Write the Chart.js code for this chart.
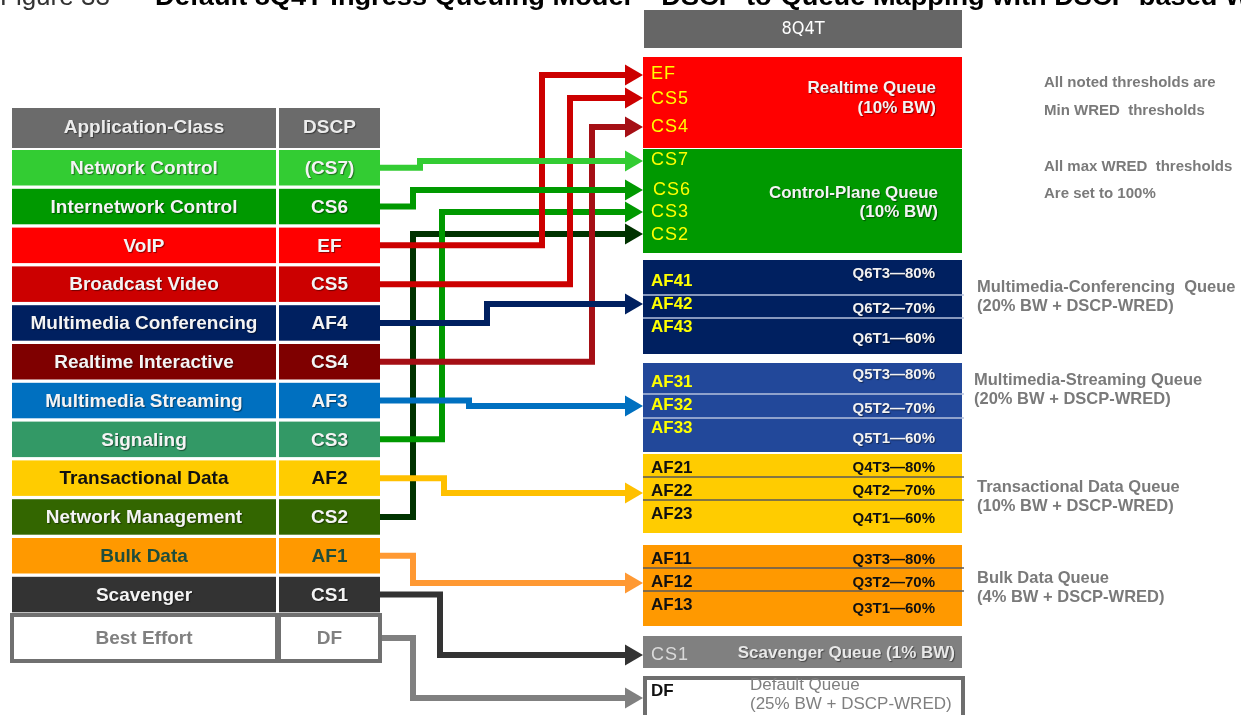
<!DOCTYPE html>
<html>
<head>
<meta charset="utf-8">
<script src="https://cdn.jsdelivr.net/npm/chart.js@4.4.1/dist/chart.umd.min.js"></script>
<style>
  html, body { margin: 0; padding: 0; background: #fff; overflow: hidden; }
</style>
</head>
<body>
<canvas id="qmap" width="1241" height="715"></canvas>
<script>
// ---- data ----
const tableHeader = ['Application-Class', 'DSCP'];
const appClasses = ['Network Control', 'Internetwork Control', 'VoIP', 'Broadcast Video', 'Multimedia Conferencing',
  'Realtime Interactive', 'Multimedia Streaming', 'Signaling', 'Transactional Data', 'Network Management',
  'Bulk Data', 'Scavenger', 'Best Effort'];
const dscpMarks = ['(CS7)', 'CS6', 'EF', 'CS5', 'AF4', 'CS4', 'AF3', 'CS3', 'AF2', 'CS2', 'AF1', 'CS1', 'DF'];
const classTargets = ['CS7', 'CS6', 'EF', 'CS5', 'AF42', 'CS4', 'AF32', 'CS3', 'AF22', 'CS2', 'AF12', 'CS1', 'DF'];

const queueModel = '8Q4T';
const queueNames = ['Realtime Queue', 'Control-Plane Queue', 'Multimedia-Conferencing  Queue', 'Multimedia-Streaming Queue',
  'Transactional Data Queue', 'Bulk Data Queue', 'Scavenger Queue', 'Default Queue'];
const queueShares = ['(10% BW)', '(10% BW)', '(20% BW + DSCP-WRED)', '(20% BW + DSCP-WRED)',
  '(10% BW + DSCP-WRED)', '(4% BW + DSCP-WRED)', '(1% BW)', '(25% BW + DSCP-WRED)'];
const queueDscp = [['EF', 'CS5', 'CS4'], ['CS7', 'CS6', 'CS3', 'CS2'], ['AF41', 'AF42', 'AF43'], ['AF31', 'AF32', 'AF33'],
  ['AF21', 'AF22', 'AF23'], ['AF11', 'AF12', 'AF13'], ['CS1'], ['DF']];
const queueThresholds = [[], [], ['Q6T3—80%', 'Q6T2—70%', 'Q6T1—60%'], ['Q5T3—80%', 'Q5T2—70%', 'Q5T1—60%'],
  ['Q4T3—80%', 'Q4T2—70%', 'Q4T1—60%'], ['Q3T3—80%', 'Q3T2—70%', 'Q3T1—60%'], [], []];
const notes = ['All noted thresholds are', 'Min WRED  thresholds', 'All max WRED  thresholds', 'Are set to 100%'];
const titleLead = 'Figure 33 –';
const titleMain = 'Default 8Q4T Ingress Queuing Model – DSCP-to-Queue Mapping with DSCP-based WRED';

// ---- styles ----
const classFill = ['#33cc33', '#009900', '#ff0000', '#cc0000', '#002060', '#7f0000', '#0070c0', '#339966',
  '#ffcc00', '#336600', '#ff9900', '#333333', '#ffffff'];
const classInk = ['#f4f4f4', '#f4f4f4', '#f4f4f4', '#f4f4f4', '#f4f4f4', '#f4f4f4', '#f4f4f4', '#f4f4f4',
  '#111111', '#f4f4f4', '#1f4d3b', '#f4f4f4', '#808080'];
const arrowColors = ['#33cc33', '#009900', '#cc0000', '#cc0000', '#002060', '#a50f15', '#0070c0', '#009900',
  '#ffc000', '#003300', '#ff9933', '#333333', '#808080'];
const queueFill = ['#ff0000', '#009900', '#002060', '#22489a', '#ffcc00', '#ff9900', '#808080', '#ffffff'];
const queueInk = ['#ffff00', '#ffff00', '#ffff00', '#ffff00', '#111111', '#111111', '#dadada', '#111111'];
const thresholdInk = ['', '', '#f2f2f2', '#f2f2f2', '#111111', '#111111', '', ''];
const dividerInk = ['', '', '#b4c0dc', '#b4c0dc', '#5a5a5a', '#5a5a5a', '', ''];
const SANS = '"Liberation Sans", Arial, sans-serif';
const NARROW = '"Liberation Sans Narrow", "DejaVu Sans Condensed", sans-serif';

// ---- layout ----
const ROW_TOP0 = 150, ROW_PITCH = 38.8, ROW_H = 35.5;
const COL = { appL: 12, appR: 276, dscpL: 279, dscpR: 380 };
const elbowX = [420, 413, 542, 570, 487, 592, 469, 442, 444, 413, 413, 440, 413];
const arrowY = [161, 190, 75, 98, 304, 127, 406, 212, 493, 234, 583, 655, 698];
const QX0 = 643, QX1 = 962, ARROW_R = 12;
const queueBox = [[57, 148], [149, 253], [260, 354], [363, 452], [454, 533], [545, 626], [636, 668], [676, 745]];
const slotY = { EF: 74, CS5: 99, CS4: 127, CS7: 160, CS6: 190, CS3: 212, CS2: 235,
  AF41: 281, AF42: 304, AF43: 327, AF31: 382, AF32: 405, AF33: 428,
  AF21: 468, AF22: 491, AF23: 514, AF11: 559, AF12: 582, AF13: 605, CS1: 655, DF: 691 };
const thresholdY = [[], [], [274, 309, 339], [375, 409, 439], [468, 491, 519], [560, 583, 609], [], []];
const dividerY = [[], [], [295, 318], [394, 418], [477, 500], [568, 591], [], []];

const rowTop = i => ROW_TOP0 + i * ROW_PITCH;
const rowMid = i => i === 12 ? 638 : rowTop(i) + ROW_H / 2;

// connector datasets: table row -> queue slot, arrowhead on the last point
const datasets = appClasses.map((name, i) => {
  const y0 = rowMid(i), y1 = arrowY[i];
  return {
    label: name + ' → ' + classTargets[i],
    data: [
      { x: i === 12 ? 382 : COL.dscpR, y: y0 },
      { x: elbowX[i], y: y0 },
      { x: elbowX[i], y: y1 },
      { x: QX0 - ARROW_R, y: y1 }
    ],
    showLine: true,
    borderColor: arrowColors[i],
    backgroundColor: arrowColors[i],
    borderWidth: 6,
    borderJoinStyle: 'miter',
    borderCapStyle: 'butt',
    tension: 0,
    pointStyle: 'triangle',
    rotation: 90,
    pointBorderWidth: 0,
    pointBackgroundColor: arrowColors[i],
    pointRadius: ctx => ctx.dataIndex === 3 ? ARROW_R : 0,
    clip: false,
    order: (classTargets[i] === 'CS2' || classTargets[i] === 'CS3') ? 2 : 1
  };
});

const diagramPlugin = {
  id: 'diagram',
  beforeDatasetsDraw(chart) {
    const { ctx, scales: { x, y } } = chart;
    const px = v => x.getPixelForValue(v);
    const py = v => y.getPixelForValue(v);
    const rect = (x0, y0, x1, y1, fill) => {
      ctx.fillStyle = fill;
      ctx.fillRect(px(x0), py(y0), px(x1) - px(x0), py(y1) - py(y0));
    };
    const text = (str, xv, yv, font, color, align, shadow, spacing) => {
      ctx.save();
      ctx.font = font;
      ctx.fillStyle = color;
      ctx.textAlign = align || 'left';
      ctx.textBaseline = 'middle';
      if (spacing) ctx.letterSpacing = spacing;
      if (shadow) {
        ctx.shadowColor = 'rgba(0,0,0,0.45)';
        ctx.shadowBlur = 1;
        ctx.shadowOffsetX = 1;
        ctx.shadowOffsetY = 1;
      }
      ctx.fillText(str, px(xv), py(yv));
      ctx.restore();
    };
    ctx.save();

    // title, cut off at the top edge
    ctx.save();
    ctx.textBaseline = 'alphabetic';
    ctx.font = '26px ' + SANS;
    ctx.fillStyle = '#333';
    ctx.fillText(titleLead, px(0), py(5));
    ctx.font = 'bold 26px ' + SANS;
    ctx.fillStyle = '#000';
    const pre = ctx.measureText('Default 8Q4T Ingress Queuing Model – DSCP-to-Queue Mapping with DSCP-based ').width;
    ctx.translate(px(155), py(5));
    ctx.scale(1070 / pre, 1);
    ctx.fillText(titleMain, 0, 0);
    ctx.restore();

    // application-class table
    const appMid = (COL.appL + COL.appR) / 2, dscpMid = (COL.dscpL + COL.dscpR) / 2;
    rect(COL.appL, 108, COL.appR, 148, '#6b6b6b');
    rect(COL.dscpL, 108, COL.dscpR, 148, '#6b6b6b');
    text(tableHeader[0], appMid, 128, 'bold 19px ' + SANS, '#ececec', 'center', true);
    text(tableHeader[1], dscpMid, 128, 'bold 19px ' + SANS, '#ececec', 'center', true);
    appClasses.forEach((name, i) => {
      const light = classInk[i] === '#f4f4f4';
      if (i === 12) {
        rect(10, 613, 382, 663, '#707070');
        rect(14, 617, 275, 659, classFill[i]);
        rect(281, 617, 378, 659, classFill[i]);
      } else {
        const t = rowTop(i);
        rect(COL.appL, t, COL.appR, t + ROW_H, classFill[i]);
        rect(COL.dscpL, t, COL.dscpR, t + ROW_H, classFill[i]);
      }
      const m = rowMid(i);
      text(name, appMid, m + 1, 'bold 19px ' + SANS, classInk[i], 'center', light);
      text(dscpMarks[i], dscpMid, m + 1, 'bold 19px ' + SANS, classInk[i], 'center', light);
    });

    // queue header
    rect(644, 10, 962, 48, '#666666');
    text(queueModel, 803, 29, '18px ' + NARROW, '#ffffff', 'center');

    // queues
    queueNames.forEach((name, q) => {
      const [t, b] = queueBox[q];
      if (q === 7) {
        rect(QX0, t, QX1 + 3, b, '#6e6e6e');
        rect(QX0 + 4, t + 4, QX1 - 1, b, '#ffffff');
      } else {
        rect(QX0, t, QX1, b, queueFill[q]);
      }
      dividerY[q].forEach(dy => {
        ctx.strokeStyle = dividerInk[q];
        ctx.lineWidth = 1.5;
        ctx.beginPath();
        ctx.moveTo(px(QX0), py(dy));
        ctx.lineTo(px(QX1 + 2), py(dy));
        ctx.stroke();
      });
      queueDscp[q].forEach(d => {
        const isAF = d.startsWith('AF') || d === 'DF';
        const font = isAF ? 'bold 17px ' + SANS : '18px ' + SANS;
        text(d, d === 'CS6' ? 653 : 651, slotY[d], font, queueInk[q], 'left', false, isAF ? '0px' : '1px');
      });
      queueThresholds[q].forEach((th, k) => {
        text(th, 935, thresholdY[q][k], 'bold 15px ' + SANS, thresholdInk[q], 'right', q < 4);
      });
    });

    // queue names inside the boxes
    const inName = 'bold 17px ' + SANS;
    text(queueNames[0], 936, 88, inName, '#f4f4f4', 'right', true);
    text(queueShares[0], 936, 108, inName, '#f4f4f4', 'right', true);
    text(queueNames[1], 938, 193, inName, '#f4f4f4', 'right', true);
    text(queueShares[1], 938, 212, inName, '#f4f4f4', 'right', true);
    text(queueNames[6] + ' ' + queueShares[6], 955, 653, inName, '#e8e8e8', 'right', true);
    text(queueNames[7], 750, 685, '17px ' + SANS, '#7f7f7f', 'left');
    text(queueShares[7], 750, 704, '17px ' + SANS, '#7f7f7f', 'left');

    // queue names beside the boxes
    const outName = 'bold 16.5px ' + SANS;
    const outPos = [null, null, [977, 287], [974, 380], [977, 487], [977, 578]];
    [2, 3, 4, 5].forEach(q => {
      const [lx, ly] = outPos[q];
      text(queueNames[q], lx, ly, outName, '#7a7a7a', 'left');
      text(queueShares[q], lx, ly + 19, outName, '#7a7a7a', 'left');
    });

    // notes
    [83, 111, 167, 194].forEach((ny, k) => text(notes[k], 1044, ny, 'bold 15px ' + SANS, '#7a7a7a', 'left'));

    ctx.restore();
  }
};

new Chart(document.getElementById('qmap'), {
  type: 'scatter',
  data: { datasets },
  options: {
    responsive: false,
    animation: false,
    events: [],
    layout: { padding: 0, autoPadding: false },
    plugins: { legend: { display: false }, tooltip: { enabled: false } },
    scales: {
      x: { type: 'linear', min: 0, max: 1241, display: false },
      y: { type: 'linear', min: 0, max: 715, reverse: true, display: false }
    }
  },
  plugins: [diagramPlugin]
});
</script>
</body>
</html>
